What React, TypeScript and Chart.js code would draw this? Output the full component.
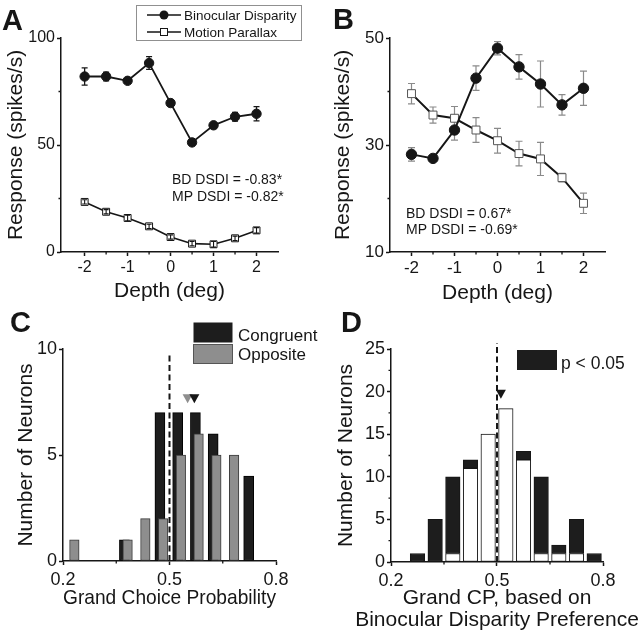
import React, { useEffect, useRef } from "react";
import { Chart, registerables } from "chart.js";
Chart.register(...registerables);

const FONT = "'Liberation Sans', Arial, Helvetica, sans-serif";
const INK = "#161616";
const GREY = "#8e8e8e";

// ---------- Panels A & B: depth tuning curves ----------
const depths = [-2, -1.5, -1, -0.5, 0, 0.5, 1, 1.5, 2];
const depthTicks = [-2, -1, 0, 1, 2];
const depthMinorTicks = [-1.5, -0.5, 0.5, 1.5];
const legendLabels = ["Binocular Disparity", "Motion Parallax"];

const aBinocular = [82, 82, 80, 88.3, 69.6, 51.2, 59.2, 63.2, 64.6];
const aBinocularErr = [4, 2, 1, 3, 1, 1, 1, 2, 3.3];
const aMotion = [23.4, 18.8, 15.9, 12, 7, 3.9, 3.6, 6.4, 10.1];
const aMotionErr = [1, 1, 1.3, 1, 1, 1, 1.3, 1, 1.3];
const aYTicks = [0, 50, 100];
const aYMinorTicks = [25, 75];
const aStats = ["BD DSDI = -0.83*", "MP DSDI = -0.82*"];

const bBinocular = [28.25, 27.5, 32.8, 42.5, 48.1, 44.6, 41.4, 37.5, 40.6];
const bBinocularErr = [1.25, 0.5, 1.9, 2.3, 1.25, 2.3, 4.3, 1.9, 3.2];
const bMotion = [39.6, 35.6, 35, 32.8, 30.8, 28.4, 27.4, 23.9, 19.1];
const bMotionErr = [1.9, 1.5, 2.2, 2.3, 2.3, 2.3, 3.1, 0.8, 1.9];
const bYTicks = [10, 30, 50];
const bYMinorTicks = [20, 40];
const bStats = ["BD DSDI = 0.67*", "MP DSDI = -0.69*"];

// ---------- Panel C: grand choice probability ----------
const cBins = [0.225, 0.275, 0.325, 0.375, 0.425, 0.475, 0.525, 0.575, 0.625, 0.675, 0.725];
const cCongruent = [0, 0, 0, 1, 0, 7, 7, 7, 6, 0, 4];
const cOpposite = [1, 0, 0, 1, 2, 2, 5, 6, 5, 5, 0];
const cCongruentMean = 0.57;
const cOppositeMean = 0.551;
const cMeanMarkerLevel = 7.65;
const cYTicks = [0, 5, 10];
const cLegend = ["Congruent", "Opposite"];

// ---------- Panel D: grand CP by disparity preference ----------
const dBins = [0.275, 0.325, 0.375, 0.425, 0.475, 0.525, 0.575, 0.625, 0.675, 0.725, 0.775];
const dNotSignificant = [0, 0, 1, 11, 15, 18, 12, 1, 1, 1, 0];
const dSignificant = [1, 5, 9, 1, 0, 0, 1, 9, 1, 4, 1];
const dMean = 0.511;
const dMeanMarkerLevel = 19.7;
const dYTicks = [0, 5, 10, 15, 20, 25];
const dYMinorTicks = [2.5, 7.5, 12.5, 17.5, 22.5];
const dLegend = "p < 0.05";
const dXTitle = ["Grand CP, based on", "Binocular Disparity Preference"];

const cpTicks = [0.2, 0.5, 0.8];
const cpMinorTicks = [0.35, 0.65];
const chanceCP = 0.5;

// ---------- helpers ----------
function text(ctx: any, s: string, x: number, y: number, size: number, bold = false, align = "left", baseline = "alphabetic") {
  ctx.save();
  ctx.font = `${bold ? "bold " : ""}${size}px ${FONT}`;
  ctx.fillStyle = INK;
  ctx.textAlign = align;
  ctx.textBaseline = baseline;
  ctx.fillText(s, x, y);
  ctx.restore();
}

function errorBars(chart: any, xs: number[], ys: number[], errs: number[], color: string, cap: number, lw: number) {
  const { ctx } = chart;
  const sx = chart.scales.x;
  const sy = chart.scales.y;
  ctx.save();
  ctx.strokeStyle = color;
  ctx.lineWidth = lw;
  xs.forEach((xv, i) => {
    const px = sx.getPixelForValue(xv);
    const t = sy.getPixelForValue(ys[i] + errs[i]);
    const b = sy.getPixelForValue(ys[i] - errs[i]);
    ctx.beginPath();
    ctx.moveTo(px, t);
    ctx.lineTo(px, b);
    ctx.moveTo(px - cap, t);
    ctx.lineTo(px + cap, t);
    ctx.moveTo(px - cap, b);
    ctx.lineTo(px + cap, b);
    ctx.stroke();
  });
  ctx.restore();
}

function minorTicks(chart: any, axis: "x" | "y", values: number[], len: number) {
  const { ctx, chartArea } = chart;
  const s = chart.scales[axis];
  ctx.save();
  ctx.strokeStyle = INK;
  ctx.lineWidth = 1.3;
  ctx.beginPath();
  values.forEach((v) => {
    const p = s.getPixelForValue(v);
    if (axis === "x") {
      ctx.moveTo(p, chartArea.bottom);
      ctx.lineTo(p, chartArea.bottom + len);
    } else {
      ctx.moveTo(chartArea.left, p);
      ctx.lineTo(chartArea.left - len, p);
    }
  });
  ctx.stroke();
  ctx.restore();
}

function dashedV(chart: any, xv: number, y0: number, y1: number) {
  const { ctx } = chart;
  const px = chart.scales.x.getPixelForValue(xv);
  ctx.save();
  ctx.strokeStyle = INK;
  ctx.lineWidth = 2;
  ctx.setLineDash([6, 3.5]);
  ctx.beginPath();
  ctx.moveTo(px, chart.scales.y.getPixelForValue(y0));
  ctx.lineTo(px, chart.scales.y.getPixelForValue(y1));
  ctx.stroke();
  ctx.restore();
}

function triangle(chart: any, xv: number, yv: number, color: string) {
  const { ctx } = chart;
  const px = chart.scales.x.getPixelForValue(xv);
  const py = chart.scales.y.getPixelForValue(yv);
  ctx.save();
  ctx.fillStyle = color;
  ctx.beginPath();
  ctx.moveTo(px - 5, py - 4.5);
  ctx.lineTo(px + 5, py - 4.5);
  ctx.lineTo(px, py + 4.5);
  ctx.closePath();
  ctx.fill();
  ctx.restore();
}

function scale(o: any) {
  return {
    type: "linear",
    min: o.min,
    max: o.max,
    offset: false,
    stacked: o.stacked || false,
    afterBuildTicks: (s: any) => {
      s.ticks = o.ticks.map((v: number) => ({ value: v }));
    },
    afterFit: (s: any) => {
      if (o.horizontal) s.height = o.fit;
      else s.width = o.fit;
    },
    grid: {
      display: true,
      drawOnChartArea: false,
      drawTicks: true,
      tickLength: 4,
      tickWidth: 1.5,
      tickColor: INK,
      offset: false,
    },
    border: { display: true, color: INK, width: 1.5 },
    ticks: {
      color: INK,
      font: { family: FONT, size: o.tickSize },
      padding: o.tickPad,
      autoSkip: false,
      maxRotation: 0,
      callback: (v: any) => String(v),
    },
    title: {
      display: o.title !== null,
      text: o.title || "",
      color: INK,
      font: { family: FONT, size: 21, lineHeight: 1.2 },
      padding: o.titlePad,
    },
  };
}

function baseOptions(padding: any, scales: any) {
  return {
    responsive: false,
    animation: false,
    devicePixelRatio: 1,
    events: [],
    layout: { padding },
    plugins: { legend: { display: false }, tooltip: { enabled: false }, title: { display: false } },
    scales,
  };
}

const pts = (ys: number[]) => depths.map((x, i) => ({ x, y: ys[i] }));
const bars = (xs: number[], ys: number[], shift: number) =>
  xs.map((x, i) => ({ x: x + shift, y: ys[i] })).filter((d) => d.y > 0);

// ---------- chart configs ----------
function configA() {
  return {
    type: "line",
    data: {
      datasets: [
        {
          data: pts(aBinocular),
          borderColor: INK,
          borderWidth: 1.8,
          pointStyle: "circle",
          pointRadius: 4.7,
          pointBackgroundColor: INK,
          pointBorderColor: INK,
          pointBorderWidth: 1,
        },
        {
          data: pts(aMotion),
          borderColor: INK,
          borderWidth: 1.6,
          pointStyle: "rect",
          pointRadius: 4.9,
          pointBackgroundColor: "#ffffff",
          pointBorderColor: INK,
          pointBorderWidth: 1,
        },
      ],
    },
    options: baseOptions(
      { left: 0, top: 38, right: 42, bottom: 0 },
      {
        x: scale({ min: -2.55, max: 2.5, ticks: depthTicks, fit: 58, horizontal: true, tickSize: 16, tickPad: 2, title: "Depth (deg)", titlePad: { top: 0, bottom: 5.9 } }),
        y: scale({ min: 0, max: 100, ticks: aYTicks, fit: 61, tickSize: 16, tickPad: 2, title: "Response (spikes/s)", titlePad: { top: 3.4, bottom: 0 } }),
      }
    ),
    plugins: [
      {
        id: "panelA",
        afterDatasetsDraw(chart: any) {
          const { ctx } = chart;
          errorBars(chart, depths, aBinocular, aBinocularErr, INK, 3, 1.3);
          errorBars(chart, depths, aMotion, aMotionErr, INK, 2.5, 1.1);
          minorTicks(chart, "x", depthMinorTicks, 2.5);
          minorTicks(chart, "y", aYMinorTicks, 2.5);
          text(ctx, "A", 2, 30, 29, true);
          // legend
          ctx.save();
          ctx.strokeStyle = "#909090";
          ctx.lineWidth = 1;
          ctx.strokeRect(136.5, 5.5, 165, 35);
          ctx.strokeStyle = INK;
          ctx.lineWidth = 1.6;
          ctx.beginPath();
          ctx.moveTo(147, 15);
          ctx.lineTo(181, 15);
          ctx.moveTo(147, 32);
          ctx.lineTo(181, 32);
          ctx.stroke();
          ctx.fillStyle = INK;
          ctx.beginPath();
          ctx.arc(164, 15, 4.5, 0, Math.PI * 2);
          ctx.fill();
          ctx.fillStyle = "#ffffff";
          ctx.lineWidth = 1;
          ctx.fillRect(160.5, 28.5, 7, 7);
          ctx.strokeRect(160.5, 28.5, 7, 7);
          ctx.restore();
          text(ctx, legendLabels[0], 184, 20, 13.5);
          text(ctx, legendLabels[1], 184, 37, 13.5);
          text(ctx, aStats[0], 172, 184, 14);
          text(ctx, aStats[1], 172, 200.5, 14);
        },
      },
    ],
  };
}

function configB() {
  return {
    type: "line",
    data: {
      datasets: [
        {
          data: pts(bBinocular),
          borderColor: INK,
          borderWidth: 2,
          pointStyle: "circle",
          pointRadius: 5.2,
          pointBackgroundColor: INK,
          pointBorderColor: INK,
          pointBorderWidth: 1,
        },
        {
          data: pts(bMotion),
          borderColor: INK,
          borderWidth: 2,
          pointStyle: "rect",
          pointRadius: 5.6,
          pointBackgroundColor: "#ffffff",
          pointBorderColor: "#555555",
          pointBorderWidth: 1,
        },
      ],
    },
    options: baseOptions(
      { left: 7, top: 38, right: 35, bottom: 0 },
      {
        x: scale({ min: -2.5, max: 2.5, ticks: depthTicks, fit: 58, horizontal: true, tickSize: 17, tickPad: 2, title: "Depth (deg)", titlePad: { top: 0, bottom: 3.9 } }),
        y: scale({ min: 10, max: 50, ticks: bYTicks, fit: 63, tickSize: 17, tickPad: 2, title: "Response (spikes/s)", titlePad: { top: 3.4, bottom: 0 } }),
      }
    ),
    plugins: [
      {
        id: "panelBErr",
        beforeDatasetsDraw(chart: any) {
          errorBars(chart, depths, bBinocular, bBinocularErr, "#8a8a8a", 3.5, 1.2);
          errorBars(chart, depths, bMotion, bMotionErr, "#8a8a8a", 3.5, 1.2);
        },
        afterDatasetsDraw(chart: any) {
          const { ctx } = chart;
          minorTicks(chart, "x", depthMinorTicks, 2.5);
          minorTicks(chart, "y", bYMinorTicks, 2.5);
          text(ctx, "B", 13, 29, 29, true);
          text(ctx, bStats[0], 86, 218.3, 14);
          text(ctx, bStats[1], 86, 234, 14);
        },
      },
    ],
  };
}

function configC() {
  return {
    type: "bar",
    data: {
      datasets: [
        {
          data: bars(cBins, cCongruent, -0.002),
          backgroundColor: "#1d1d1d",
          borderColor: "#000000",
          borderWidth: 1,
          borderSkipped: false,
          barThickness: 10,
          grouped: false,
          order: 2,
        },
        {
          data: bars(cBins, cOpposite, 0.007),
          backgroundColor: GREY,
          borderColor: "#3a3a3a",
          borderWidth: 1,
          borderSkipped: false,
          barThickness: 9.5,
          grouped: false,
          order: 1,
        },
      ],
    },
    options: baseOptions(
      { left: 10.5, top: 49, right: 44, bottom: 0 },
      {
        x: scale({ min: 0.2, max: 0.8, ticks: cpTicks, fit: 72, horizontal: true, tickSize: 18, tickPad: 4, title: "Grand Choice Probability", titlePad: { top: 0, bottom: 21.9 } }),
        y: scale({ min: 0, max: 10, ticks: cYTicks, fit: 52.5, tickSize: 18, tickPad: 2, title: "Number of Neurons", titlePad: { top: 3.4, bottom: 0 } }),
      }
    ),
    plugins: [
      {
        id: "panelC",
        afterDatasetsDraw(chart: any) {
          const { ctx } = chart;
          dashedV(chart, chanceCP, 0, 9.8);
          triangle(chart, cOppositeMean, cMeanMarkerLevel, GREY);
          triangle(chart, cCongruentMean, cMeanMarkerLevel, INK);
          minorTicks(chart, "x", cpMinorTicks, 2.5);
          text(ctx, "C", 10, 32, 29, true);
          ctx.save();
          ctx.fillStyle = "#1d1d1d";
          ctx.fillRect(193.5, 22.5, 39, 20);
          ctx.fillStyle = GREY;
          ctx.fillRect(193.5, 44.5, 39, 19);
          ctx.strokeStyle = "#555555";
          ctx.lineWidth = 1;
          ctx.strokeRect(193.5, 44.5, 39, 19);
          ctx.restore();
          text(ctx, cLegend[0], 238, 40.5, 17);
          text(ctx, cLegend[1], 238, 59.5, 17);
        },
      },
    ],
  };
}

function configD() {
  return {
    type: "bar",
    data: {
      datasets: [
        {
          data: bars(dBins, dNotSignificant, 0),
          backgroundColor: "#ffffff",
          borderColor: INK,
          borderWidth: 1,
          borderSkipped: false,
          barThickness: 14.5,
          grouped: false,
        },
        {
          data: bars(dBins, dSignificant, 0),
          backgroundColor: "#1d1d1d",
          borderColor: INK,
          borderWidth: 1,
          borderSkipped: false,
          barThickness: 14.5,
          grouped: false,
        },
      ],
    },
    options: baseOptions(
      { left: 10.5, top: 49, right: 37, bottom: 0 },
      {
        x: scale({ min: 0.2, max: 0.8, ticks: cpTicks, fit: 71, horizontal: true, tickSize: 18, tickPad: 4, title: null }),
        y: scale({ min: 0, max: 25, ticks: dYTicks, fit: 60.5, stacked: true, tickSize: 18, tickPad: 2, title: "Number of Neurons", titlePad: { top: 3.4, bottom: 0 } }),
      }
    ),
    plugins: [
      {
        id: "panelD",
        afterDatasetsDraw(chart: any) {
          const { ctx, chartArea } = chart;
          dashedV(chart, chanceCP, 0, 25.7);
          triangle(chart, dMean, dMeanMarkerLevel, INK);
          minorTicks(chart, "x", cpMinorTicks, 2.5);
          minorTicks(chart, "y", dYMinorTicks, 2.5);
          text(ctx, "D", 21, 32, 29, true);
          ctx.save();
          ctx.fillStyle = "#1d1d1d";
          ctx.fillRect(197, 50, 40, 20);
          ctx.restore();
          text(ctx, dLegend, 241, 68.5, 17.5);
          const cx = (chartArea.left + chartArea.right) / 2;
          text(ctx, dXTitle[0], cx, 297.8, 21, false, "center", "middle");
          text(ctx, dXTitle[1], cx, 320.2, 21, false, "center", "middle");
        },
      },
    ],
  };
}

function Panel({ left, top, width, height, build }: any) {
  const ref = useRef<HTMLCanvasElement>(null);
  useEffect(() => {
    const chart = new Chart(ref.current as any, build() as any);
    return () => chart.destroy();
  }, []);
  return (
    <canvas
      ref={ref}
      width={width}
      height={height}
      style={{ position: "absolute", left, top, width, height }}
    />
  );
}

export default function App() {
  return (
    <div style={{ position: "absolute", left: 0, top: 0, width: 640, height: 633, background: "#ffffff", overflow: "hidden" }}>
      <Panel left={0} top={0} width={320} height={310} build={configA} />
      <Panel left={320} top={0} width={320} height={310} build={configB} />
      <Panel left={0} top={300} width={320} height={333} build={configC} />
      <Panel left={320} top={300} width={320} height={333} build={configD} />
    </div>
  );
}
